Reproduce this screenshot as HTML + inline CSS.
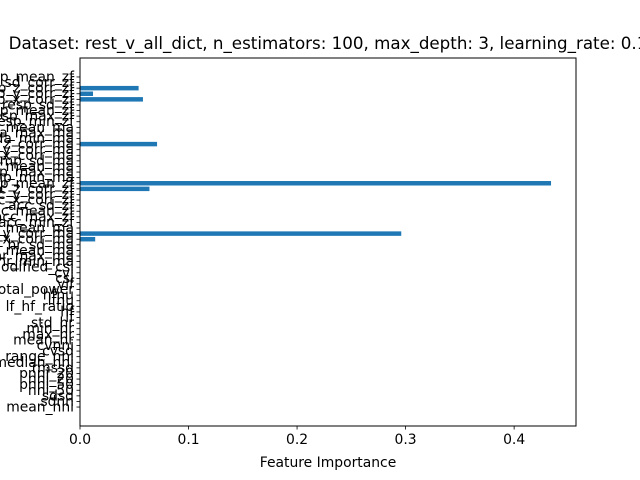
<!DOCTYPE html>
<html><head><meta charset="utf-8"><style>
html,body{margin:0;padding:0;background:#fff;}
svg{display:block;font-family:"DejaVu Sans","Liberation Sans",sans-serif;}
</style></head><body>
<svg id="chart" width="640" height="480"></svg>
<script>
const categories=["mean_nni","sdnn","sdsd","nni_50","pnni_50","nni_20","pnni_20","rmssd","median_nni","range_nni","cvsd","cvnni","mean_hr","max_hr","min_hr","std_hr","lf","hf","lf_hf_ratio","lfnu","hfnu","total_power","vlf","csi","cvi","Modified_csi",
"hr_min_ma","hr_max_ma","hr_mean_ma","hr_sd_ma","acc_x_corr_ma","acc_y_corr_ma","acc_mean_ma","acc_min_zf","acc_max_zf","acc_mean_zf","acc_sd_zf","acc_x_corr_zf","acc_y_corr_zf","acc_z_corr_zf","temp_mean_zf","temp_min_ma","temp_max_ma","temp_mean_ma","temp_sd_ma","eda_x_corr_ma","eda_y_corr_ma","eda_z_corr_ma","eda_min_ma","eda_max_ma","eda_mean_ma","resp_min_zf","resp_max_zf","resp_mean_zf","resp_sd_zf","resp_x_corr_zf","resp_y_corr_zf","resp_z_corr_zf","resp_sd_corr_zf","resp_mean_zf"];
const barIndices=[57,56,55,47,40,39,31,30];
const barValues=[0.054,0.012,0.058,0.071,0.434,0.064,0.296,0.014];
const xTicks=[0,0.1,0.2,0.3,0.4];
const xTickLabels=["0.0","0.1","0.2","0.3","0.4"];
const title="Dataset: rest_v_all_dict, n_estimators: 100, max_depth: 3, learning_rate: 0.1";

const NS="http://www.w3.org/2000/svg";
const svg=document.getElementById('chart');
const L=80,R=576,T=58,B=426;
const n=categories.length;
const yMin=-0.4-0.05*(n-1+0.8), yMax=n-1+0.4+0.05*(n-1+0.8);
const xMax=0.457;
const xs=v=>L+v/xMax*(R-L);
const ys=i=>B-(i-yMin)/(yMax-yMin)*(B-T);
function mk(tag,attrs,parent){const e=document.createElementNS(NS,tag);for(const k in attrs)e.setAttribute(k,attrs[k]);(parent||svg).appendChild(e);return e;}

const bars=mk('g',{});


barIndices.forEach((idx,k)=>{
  const h=(B-T)/(yMax-yMin)*0.8;
  const r=mk('rect',{x:xs(0),y:ys(idx)-h/2,width:xs(barValues[k])-xs(0),height:h,fill:'#1f77b4'},bars);
  
  
});

const frame=mk('rect',{x:L,y:T,width:R-L,height:B-T,fill:'none',stroke:'#000','stroke-width':1});



const yAxis=mk('g',{});


categories.forEach((c,i)=>{
  const y=ys(i);
  mk('line',{x1:L-3.5,x2:L,y1:y,y2:y,stroke:'#000','stroke-width':0.8},yAxis);
  const t=mk('text',{x:L-6,y:y+4.5,'text-anchor':'end','font-size':13.9,fill:'#000'},yAxis);
  t.textContent=c;
  
  
});

const xAxis=mk('g',{});


xTicks.forEach((v,k)=>{
  const x=xs(v);
  mk('line',{x1:x,x2:x,y1:B,y2:B+3.5,stroke:'#000','stroke-width':0.8},xAxis);
  const t=mk('text',{x:x,y:B+18,'text-anchor':'middle','font-size':13.9,fill:'#000'},xAxis);
  t.textContent=xTickLabels[k];
  
  
});
const xt=mk('text',{x:(L+R)/2,y:B+41,'text-anchor':'middle','font-size':13.9,fill:'#000'});
xt.textContent="Feature Importance";



const tt=mk('text',{x:(L+R)/2,y:T-9,'text-anchor':'middle','font-size':16.7,fill:'#000'});
tt.textContent=title;


</script>
</body></html>
